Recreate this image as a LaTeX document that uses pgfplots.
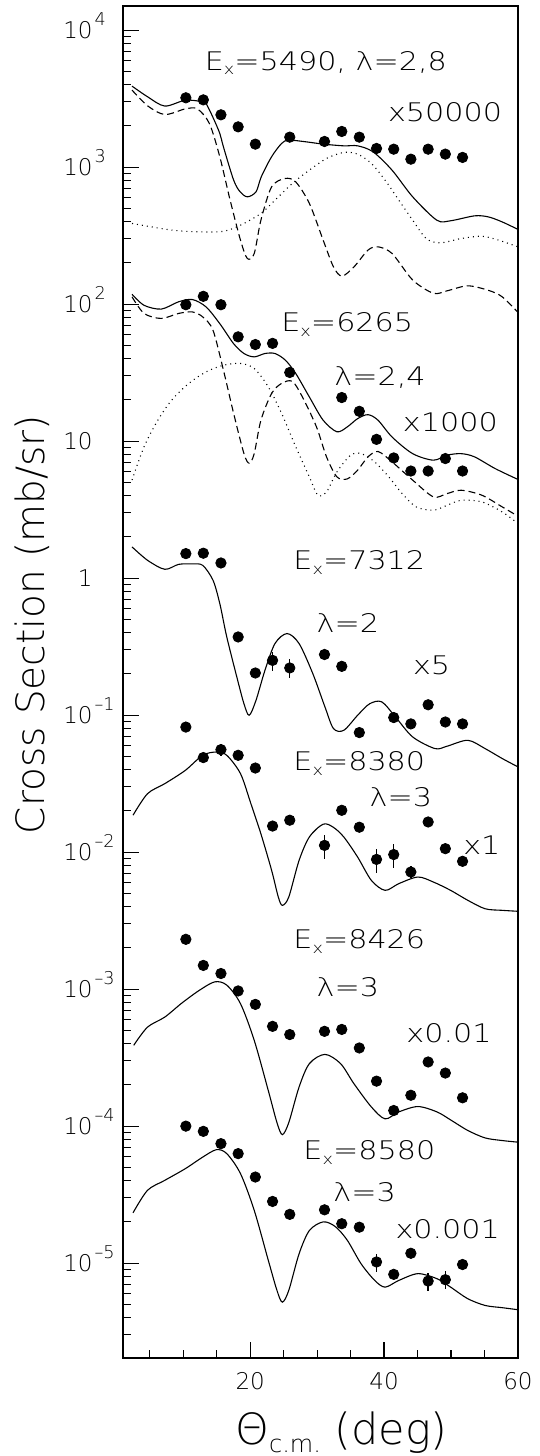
\documentclass[border=0pt]{standalone}
\usepackage{fontspec}
\setmainfont{DejaVu Sans ExtraLight}
\newfontfamily\annfont{DejaVu Sans ExtraLight}[FakeStretch=1.18]
\newfontfamily\tickfont{DejaVu Sans ExtraLight}[FakeStretch=1.0]
\newfontfamily\ylabfont{DejaVu Sans ExtraLight}[FakeStretch=1.0]
\usepackage{pgfplots}
\pgfplotsset{compat=1.18}
\newcommand{\Ex}{E\raisebox{-2.4pt}{\fontsize{7.5}{7.5}\selectfont x}}
\newcommand{\tl}[1]{\llap{10}\rlap{\smash{\hspace{1pt}\raisebox{6.5pt}{\fontsize{8.8}{8.8}\selectfont #1}}}}
\tikzset{ann/.style={anchor=base, inner sep=0pt, font=\annfont\fontsize{12.8}{12.8}\selectfont}}
\begin{document}
\begin{tikzpicture}
\begin{axis}[
  at={(0,0)}, anchor=south west,
  width=197.5pt, height=676pt, scale only axis,
  xmin=1, xmax=60, ymin=2.03e-6, ymax=1.5e4,
  ymode=log,
  axis line style={line width=0.6pt},
  tick align=inside,
  xtick pos=left, ytick pos=left,
  xtick={20,40,60}, xticklabels={20,40,60},
  minor xtick={5,10,15,25,30,35,45,50,55},
  ytick={1e-5,1e-4,1e-3,1e-2,1e-1,1,10,100,1000,10000},
  yticklabels={{\tl{–5}},{\tl{–4}},{\tl{–3}},{\tl{–2}},{\tl{–1}},{\llap{1}\hspace{1.5pt}},{\llap{10}},{\tl{2}},{\tl{3}},{\tl{4}}},
  minor ytick={3e-6,4e-6,5e-6,6e-6,7e-6,8e-6,9e-6,
    2e-5,3e-5,4e-5,5e-5,6e-5,7e-5,8e-5,9e-5,
    2e-4,3e-4,4e-4,5e-4,6e-4,7e-4,8e-4,9e-4,
    2e-3,3e-3,4e-3,5e-3,6e-3,7e-3,8e-3,9e-3,
    0.02,0.03,0.04,0.05,0.06,0.07,0.08,0.09,
    0.2,0.3,0.4,0.5,0.6,0.7,0.8,0.9,
    2,3,4,5,6,7,8,9,
    20,30,40,50,60,70,80,90,
    200,300,400,500,600,700,800,900,
    2000,3000,4000,5000,6000,7000,8000,9000},
  major tick length=8pt, minor tick length=4pt,
  tick style={black, line width=0.6pt},
  /pgf/number format/assume math mode=true,
  xticklabel style={font=\tickfont\fontsize{11.5}{11.5}\selectfont, inner sep=0pt, anchor=north, yshift=-7pt},
  yticklabel style={font=\tickfont\fontsize{11.5}{11.5}\selectfont, inner sep=0pt, anchor=east, xshift=-14.5pt},
]
% ---------- E=5490 ----------
\addplot[black, line width=0.55pt, smooth, tension=0.5] coordinates {
(2.35,3900)(4.68,3260)(7.24,2790)(10.32,3080)(12.9,3000)(13.4,2917)(14.4,2328)(15.46,1762)(16.0,1406)(17.53,803)(18.5,660)(19.58,607)(20.87,660)(21.65,849)(23.19,1189)(24.7,1490)(25.76,1574)(28.33,1530)(30.9,1472)(33.98,1430)(36.05,1430)(38.36,1292)(41.19,950)(44.27,607)(47.87,410)(49.94,406)(53.53,441)(55.59,433)(57.65,398)(60,351)};
\addplot[black, line width=0.55pt, smooth, tension=0.5, dash pattern=on 3.5pt off 2pt] coordinates {
(2.35,3650)(4.68,2800)(7.24,2420)(10.3,2660)(12.1,2660)(13.9,2084)(15.46,1189)(17.0,574)(18.55,293)(19.58,215)(20.6,234)(21.6,410)(23.2,718)(25.2,826)(26.8,780)(28.84,543)(30.9,293)(32.44,187)(33.7,160)(35.5,187)(37.6,248)(39.1,262)(41.2,234)(44.27,150)(47.36,120)(49.4,125)(52.5,136)(55.6,126)(57.65,113)(60,87)};
\addplot[black, line width=0.55pt, smooth, tension=0.5, dash pattern=on 0.5pt off 2pt] coordinates {
(2.35,388)(8.27,347)(12.4,337)(16.0,340)(18.55,377)(21.6,459)(23.7,574)(26.3,760)(28.84,950)(31.4,1157)(33.98,1280)(36.05,1244)(38.1,1064)(40.15,803)(42.2,574)(44.27,410)(46.3,301)(48.4,280)(51.5,301)(54.6,313)(57.1,293)(60,262)};
% ---------- E=6265 ----------
\addplot[black, line width=0.55pt, smooth, tension=0.5] coordinates {
(2.35,118)(4.15,98)(6.73,92)(9.3,104)(11.36,108)(13.4,95.5)(15.46,72)(17.5,51.6)(19.07,43.6)(20.6,41.2)(22.2,43.6)(23.7,43.6)(25.25,39)(26.8,31.2)(28.84,21)(30.9,14.2)(32.96,11.7)(34.5,12.7)(36.05,14.6)(37.6,15.6)(39.1,14.2)(41.2,10.7)(44.27,8.1)(47.36,7.26)(49.4,7.9)(51.5,8.1)(53.5,7.68)(56.6,6.3)(60,5.25)};
\addplot[black, line width=0.55pt, smooth, tension=0.5, dash pattern=on 3.5pt off 2pt] coordinates {
(2.35,113)(4.15,85.5)(6.73,78.6)(9.3,85.5)(11.36,87.7)(12.9,80.7)(14.44,64.5)(16.0,33)(17.53,15.9)(19.07,8.1)(19.85,6.9)(20.6,8.1)(21.6,14.2)(23.2,22.3)(24.7,26.4)(26.3,27.3)(27.8,21)(29.9,12.7)(31.4,7.68)(32.96,5.48)(34.5,5.3)(36.05,6.14)(37.6,7.68)(39.1,8.4)(41.2,7.05)(44.27,5.19)(47.36,3.92)(49.4,4.14)(51.5,4.38)(54.6,4.03)(57.65,3.31)(60,2.83)};
\addplot[black, line width=0.55pt, smooth, tension=0.5, dash pattern=on 0.5pt off 2pt] coordinates {
(2.35,5.2)(4.15,9.1)(6.2,14.2)(8.27,19.9)(10.83,26.4)(13.4,32)(16.0,35.8)(18.55,36.9)(20.6,33.9)(22.7,24.9)(24.7,15.9)(26.8,9.1)(28.84,5.48)(30.1,4.03)(31.4,4.26)(32.96,5.96)(35.0,7.89)(36.6,8.1)(38.6,7.05)(40.7,5.48)(42.7,4.14)(44.8,3.31)(47.36,3.13)(49.4,3.4)(51.5,3.7)(54.6,3.6)(57.65,3.04)(60,2.5)};
% ---------- E=7312 ----------
\addplot[black, line width=0.55pt, smooth, tension=0.5] coordinates {
(2.35,1.69)(4.66,1.35)(7.24,1.16)(9.3,1.26)(11.36,1.27)(12.9,1.24)(14.44,0.966)(15.46,0.652)(16.5,0.372)(18.0,0.19)(19.07,0.121)(19.85,0.0998)(20.86,0.128)(22.2,0.212)(23.7,0.333)(25.5,0.394)(27.3,0.333)(29.35,0.201)(31.16,0.115)(32.44,0.0798)(33.98,0.0775)(36.05,0.0998)(37.84,0.121)(39.65,0.125)(41.7,0.097)(44.27,0.0693)(47.6,0.057)(49.4,0.0593)(52.5,0.0655)(55.08,0.057)(57.65,0.0482)(60,0.0419)};
% ---------- E=8380 ----------
\addplot[black, line width=0.55pt, smooth, tension=0.5] coordinates {
(2.5,0.0186)(4.66,0.0267)(7.24,0.0316)(10.3,0.0395)(12.9,0.0509)(14.95,0.0538)(16.5,0.0509)(18.55,0.0374)(20.1,0.0226)(21.6,0.0136)(23.2,0.00736)(24.2,0.0047)(24.8,0.00409)(25.76,0.0047)(27.3,0.0087)(28.84,0.0129)(30.9,0.016)(32.4,0.0152)(33.98,0.0129)(36.05,0.0092)(38.1,0.00622)(40.15,0.00526)(42.2,0.00589)(45.05,0.00658)(47.36,0.00605)(49.94,0.00526)(52.5,0.00445)(55.1,0.00386)(57.65,0.00376)(60,0.0037)};
% ---------- E=8426 ----------
\addplot[black, line width=0.55pt, smooth, tension=0.5] coordinates {
(2.6,0.000389)(4.66,0.000528)(7.24,0.000625)(9.8,0.000792)(12.4,0.00098)(14.7,0.00113)(16.5,0.00107)(18.55,0.000783)(20.6,0.000423)(22.7,0.000182)(24.0,0.000106)(24.8,0.0000867)(25.76,0.000106)(27.3,0.000193)(28.84,0.000286)(31.16,0.000334)(33.5,0.000286)(35.5,0.000204)(38.1,0.000138)(40.15,0.000113)(42.2,0.000127)(45.05,0.000139)(47.9,0.000127)(49.94,0.000111)(52.5,0.000093)(55.1,0.000082)(57.65,0.0000785)(60,0.0000764)};
% ---------- E=8580 ----------
\addplot[black, line width=0.55pt, smooth, tension=0.5] coordinates {
(2.5,2.33e-5)(4.66,3.4e-5)(7.24,4.02e-5)(10.3,4.89e-5)(12.9,5.94e-5)(14.95,6.73e-5)(16.5,6.3e-5)(18.55,4.5e-5)(20.6,2.43e-5)(22.7,1.05e-5)(24.0,6.32e-6)(24.8,5.19e-6)(25.76,6.32e-6)(27.3,1.17e-5)(28.84,1.73e-5)(30.9,2.0e-5)(32.7,1.85e-5)(34.5,1.47e-5)(36.56,9.9e-6)(38.6,7.48e-6)(40.15,6.68e-6)(42.2,7.48e-6)(45.05,8.38e-6)(47.9,7.7e-6)(49.94,6.68e-6)(52.5,5.5e-6)(55.1,4.91e-6)(57.65,4.73e-6)(60,4.57e-6)};
% ---------- data points ----------
\pgfplotsset{dots/.style={black, only marks, mark=*, mark size=2.6pt,
  error bars/.cd, y dir=both, y explicit relative, error mark=none,
  error bar style={line width=0.7pt}}}
\addplot[dots] coordinates {
(10.39,3206)(13.0,3097)(15.63,2409)(18.2,1968)(20.77,1471)(25.91,1655)(31.1,1539)(33.68,1821)(36.3,1655)(38.87,1368)(41.44,1352)(44.0,1143)(46.58,1352)(49.15,1244)(51.72,1177)};
\addplot[dots] coordinates {
(10.39,99)(13.0,114)(15.63,99)(18.2,57.7)(20.77,50.7)(23.34,51.7)(25.91,31.7)(33.68,20.8)(36.3,16.5)(38.87,10.3)(41.44,7.54)(44.0,6.05)(46.58,6.05)(49.15,7.46)(51.72,6.05)};
\addplot[dots] coordinates {
(10.39,1.51)(13.0,1.52)(15.63,1.29)(18.2,0.372)(20.77,0.203)(23.34,0.251) +- (0,0.16) (25.91,0.221) +- (0,0.16) (31.1,0.277)(33.68,0.227)(36.3,0.0746)(41.44,0.096)(44.0,0.0863)(46.58,0.119)(49.15,0.0891)(51.72,0.0863)};
\addplot[dots] coordinates {
(10.39,0.0818)(13.0,0.049)(15.63,0.056) +- (0,0.1) (18.2,0.0509)(20.77,0.0411)(23.34,0.0155)(25.91,0.0171)(31.1,0.0112) +- (0,0.2) (33.68,0.0202)(36.3,0.0152)(38.87,0.00885) +- (0,0.2) (41.44,0.0096) +- (0,0.2) (44.0,0.00716) +- (0,0.1) (46.58,0.0166)(49.15,0.0106)(51.72,0.00857)};
\addplot[dots] coordinates {
(10.39,0.00231)(13.0,0.00149)(15.63,0.0013)(18.2,0.00097)(20.77,0.000774)(23.34,0.000535)(25.91,0.000466)(31.1,0.000492)(33.68,0.000508)(36.3,0.000372)(38.87,0.000213)(41.44,0.00013)(44.0,0.000168)(46.58,0.000294)(49.15,0.000244)(51.72,0.000161)};
\addplot[dots] coordinates {
(10.39,1.0e-4)(13.0,9.16e-5)(15.63,7.45e-5)(18.2,6.3e-5)(20.77,4.25e-5)(23.34,2.82e-5)(25.91,2.27e-5)(31.1,2.45e-5)(33.68,1.94e-5)(36.3,1.83e-5)(38.87,1.02e-5) +- (0,0.15) (41.44,8.28e-6)(44.0,1.18e-5)(46.58,7.4e-6) +- (0,0.15) (49.15,7.57e-6) +- (0,0.15) (51.72,9.77e-6)};
% ---------- annotations ----------
\node[ann] at (axis cs:31.3,5100) {\Ex=5490, λ=2,8};
\node[ann] at (axis cs:49.1,2140) {x50000};
\node[ann] at (axis cs:34.5,62.7) {\Ex=6265};
\node[ann] at (axis cs:39.4,25.6) {λ=2,4};
\node[ann] at (axis cs:49.9,11.7) {x1000};
\node[ann] at (axis cs:36.3,1.16) {\Ex=7312};
\node[ann] at (axis cs:34.6,0.398) {λ=2};
\node[ann] at (axis cs:47.1,0.198) {x5};
\node[ann] at (axis cs:36.3,0.0396) {\Ex=8380};
\node[ann] at (axis cs:42.5,0.0217) {λ=3};
\node[ann] at (axis cs:54.6,0.0096) {x1};
\node[ann] at (axis cs:36.3,0.00197) {\Ex=8426};
\node[ann] at (axis cs:34.6,0.00089) {λ=3};
\node[ann] at (axis cs:49.7,0.000406) {x0.01};
\node[ann] at (axis cs:37.8,5.69e-5) {\Ex=8580};
\node[ann] at (axis cs:37.1,2.84e-5) {λ=3};
\node[ann] at (axis cs:49.5,1.52e-5) {x0.001};
\end{axis}
\node[rotate=90, anchor=base, inner sep=0pt, font=\ylabfont\fontsize{19.5}{19.5}\selectfont] at (-39pt,366.75pt) {Cross Section (mb/sr)};
\node[anchor=base, inner sep=0pt, font=\fontsize{21.5}{21.5}\selectfont] at (109.25pt,-43pt) {Θ\raisebox{-4pt}{\fontsize{12}{12}\selectfont c.m.}\ (deg)};
\pgfresetboundingbox
\path[use as bounding box] (-61.5pt,-49pt) rectangle (208.5pt,679pt);
\end{tikzpicture}
\end{document}
